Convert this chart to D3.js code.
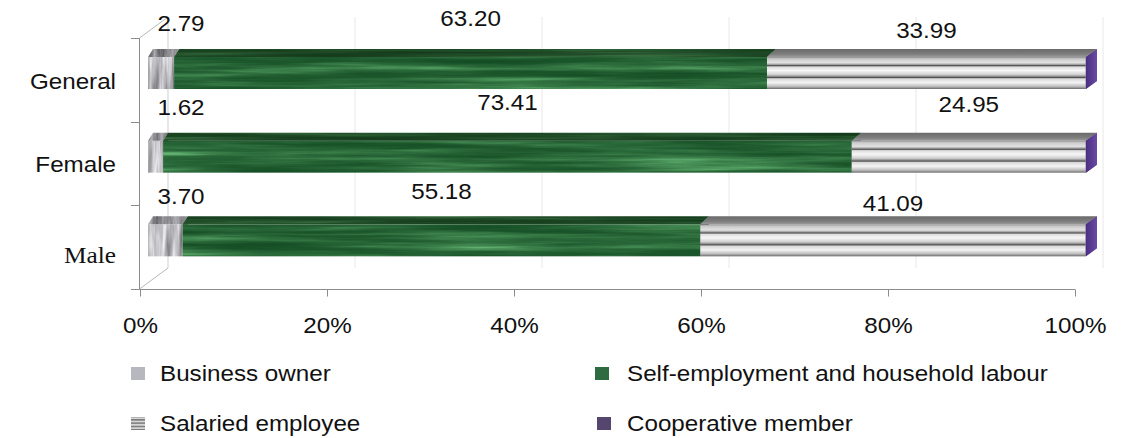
<!DOCTYPE html>
<html>
<head>
<meta charset="utf-8">
<script src="https://cdn.jsdelivr.net/npm/d3@7"></script>
<style>
  html, body { margin: 0; padding: 0; background: #ffffff; }
  svg { display: block; }
  .sans { font-family: "Liberation Sans", Arial, Helvetica, sans-serif; }
  .serif { font-family: "Liberation Serif", "Times New Roman", Times, serif; }
  text { fill: #111; }
</style>
</head>
<body>
<script>
// ---- data ----
const categories = ["General", "Female", "Male"];
const seriesNames = ["Business owner", "Self-employment and household labour", "Salaried employee", "Cooperative member"];
const businessOwner = [2.79, 1.62, 3.70];
const selfEmployment = [63.20, 73.41, 55.18];
const salaried = [33.99, 24.95, 41.09];
const cooperative = [0.02, 0.02, 0.03];
const tickValues = [0, 20, 40, 60, 80, 100];
const tickLabels = ["0%", "20%", "40%", "60%", "80%", "100%"];

// ---- layout ----
const W = 1124, H = 438;
const fontPx = 22, stretch = 1.1;
const wallDx = 28, wallDy = 21;       // offset of the back wall from the front plane
const barDepthY = 8;                  // height of the visible top face
const faceTop = 19, faceBottom = 51;  // front face position inside each band

const keys = ["bo", "se", "sa", "co"];
const table = categories.map((c, i) => ({
  cat: c, bo: businessOwner[i], se: selfEmployment[i], sa: salaried[i], co: cooperative[i]
}));
const stacked = d3.stack().keys(keys)(table);

const axisX = d3.scaleLinear().domain([0, 100]).range([140, 1075]);
const barX = d3.scaleLinear().domain([0, 100]).range([148, 1086]);
const band = d3.scaleBand().domain(categories).range([38, 289]);
// receding depth grows slightly toward the right end of the bars
const depthX = d3.scaleLinear().domain([148, 1086]).range([5, 11]);

const svg = d3.select("body").append("svg").attr("width", W).attr("height", H);
const defs = svg.append("defs");

// streaky textures built from stretched turbulence
function noiseFilter(id, freq, seed, expo, rows) {
  const f = defs.append("filter").attr("id", id)
    .attr("x", 0).attr("y", 0).attr("width", 1).attr("height", 1)
    .attr("color-interpolation-filters", "sRGB");
  f.append("feTurbulence").attr("type", "fractalNoise").attr("baseFrequency", freq)
    .attr("numOctaves", 4).attr("seed", seed).attr("result", "n");
  const ct = f.append("feComponentTransfer").attr("in", "n").attr("result", "g");
  ct.append("feFuncR").attr("type", "gamma").attr("amplitude", 1).attr("exponent", expo).attr("offset", 0);
  f.append("feColorMatrix").attr("in", "g").attr("type", "matrix").attr("values", rows).attr("result", "c");
  f.append("feComposite").attr("in", "c").attr("in2", "SourceGraphic").attr("operator", "in");
}
noiseFilter("texGreen", "0.005 0.14", 3, 2.4,
  "0.42 0 0 0 0.08  0.55 0 0 0 0.3  0.42 0 0 0 0.14  0 0 0 0 1");
noiseFilter("texGreenTop", "0.004 0.2", 5, 2.4,
  "0.25 0 0 0 0.07  0.35 0 0 0 0.22  0.25 0 0 0 0.1  0 0 0 0 1");
noiseFilter("texGray", "0.18 0.015", 9, 1.0,
  "0.75 0 0 0 0.36  0.75 0 0 0 0.36  0.75 0 0 0 0.38  0 0 0 0 1");
noiseFilter("texGrayTop", "0.2 0.03", 11, 1.0,
  "0.6 0 0 0 0.25  0.6 0 0 0 0.25  0.6 0 0 0 0.27  0 0 0 0 1");

// metallic striped face for salaried employees
const stripe = defs.append("linearGradient").attr("id", "stripeFront")
  .attr("x1", 0).attr("y1", 0).attr("x2", 0).attr("y2", 1);
[[0, "#8e8e8e"], [0.06, "#c9c9c9"], [0.18, "#e2e2e2"], [0.24, "#9a9a9a"], [0.27, "#4c4c4c"],
 [0.31, "#dcdcdc"], [0.42, "#f7f7f7"], [0.55, "#cfcfcf"], [0.61, "#8a8a8a"], [0.64, "#4e4e4e"],
 [0.68, "#d8d8d8"], [0.8, "#f4f4f4"], [0.92, "#bdbdbd"], [1, "#6a6a6a"]]
  .forEach(([o, c]) => stripe.append("stop").attr("offset", o).attr("stop-color", c));
const stripeTop = defs.append("linearGradient").attr("id", "stripeTop")
  .attr("x1", 0).attr("y1", 0).attr("x2", 0).attr("y2", 1);
[[0, "#6a6a6a"], [0.6, "#7c7c7c"], [1, "#9a9a9a"]]
  .forEach(([o, c]) => stripeTop.append("stop").attr("offset", o).attr("stop-color", c));
const purpleSide = defs.append("linearGradient").attr("id", "purpleSide")
  .attr("x1", 0).attr("y1", 0).attr("x2", 1).attr("y2", 0);
[[0, "#4b2e82"], [1, "#6a4aa6"]]
  .forEach(([o, c]) => purpleSide.append("stop").attr("offset", o).attr("stop-color", c));
const legendStripe = defs.append("pattern").attr("id", "legendStripe")
  .attr("patternUnits", "userSpaceOnUse").attr("width", 14).attr("height", 3.3);
legendStripe.append("rect").attr("width", 14).attr("height", 3.3).attr("fill", "#d6d6d6");
legendStripe.append("rect").attr("width", 14).attr("height", 1.5).attr("fill", "#7a7a7a");

const styles = {
  bo: { front: { fill: "#b0b0b0", filter: "url(#texGray)" }, top: { fill: "#888", filter: "url(#texGrayTop)" }, side: "#7a7a7a" },
  se: { front: { fill: "#2e6b40", filter: "url(#texGreen)" }, top: { fill: "#1e4f2a", filter: "url(#texGreenTop)" }, side: "#1b4726" },
  sa: { front: { fill: "url(#stripeFront)" }, top: { fill: "url(#stripeTop)" }, side: "#6a6a6a" },
  co: { front: { fill: "#5a3c8c" }, top: { fill: "#4a2e7a" }, side: "url(#purpleSide)" }
};

// ---- back wall and side walls ----
const wall = svg.append("g");
tickValues.forEach(v => {
  wall.append("line")
    .attr("x1", axisX(v) + wallDx).attr("x2", axisX(v) + wallDx)
    .attr("y1", 38 - wallDy).attr("y2", 289 - wallDy)
    .attr("stroke", v === 0 ? "#cfcfcf" : "#e8e8e8").attr("stroke-width", 1);
});
[38, 289].forEach(y => {
  wall.append("line")
    .attr("x1", axisX(0) - 0.5).attr("y1", y)
    .attr("x2", axisX(0) + wallDx).attr("y2", y - wallDy)
    .attr("stroke", "#b8b8b8").attr("stroke-width", 1);
});

// ---- bars ----
const bars = svg.append("g");
stacked.forEach(layer => {
  const key = layer.key;
  const st = styles[key];
  layer.forEach(d => {
    const c = d.data.cat;
    const x0 = barX(d[0]), x1 = barX(d[1]);
    const yt = band(c) + faceTop, yb = band(c) + faceBottom;
    const d0 = depthX(x0), d1 = depthX(x1);
    const g = bars.append("g");
    const front = g.append("rect").attr("x", x0).attr("y", yt)
      .attr("width", Math.max(x1 - x0, 0.01)).attr("height", yb - yt);
    Object.entries(st.front).forEach(([k, v]) => front.attr(k, v));
    const top = g.append("path")
      .attr("d", `M${x0},${yt}L${x0 + d0},${yt - barDepthY}L${x1 + d1},${yt - barDepthY}L${x1},${yt}Z`);
    Object.entries(st.top).forEach(([k, v]) => top.attr(k, v));
    g.append("path")
      .attr("d", `M${x1},${yt}L${x1 + d1},${yt - barDepthY}L${x1 + d1},${yb - barDepthY}L${x1},${yb}Z`)
      .attr("fill", st.side);
  });
});

// ---- front axes ----
const axisColor = "#8c8c8c";
const ax = svg.append("g");
ax.append("line").attr("x1", 139.5).attr("x2", 139.5).attr("y1", 38).attr("y2", 289.5)
  .attr("stroke", axisColor);
const bounds = categories.map(c => band(c)).concat([band.range()[1]]);
bounds.forEach(y => {
  ax.append("line").attr("x1", 131).attr("x2", 139.5).attr("y1", Math.round(y) + 0.5).attr("y2", Math.round(y) + 0.5)
    .attr("stroke", axisColor);
});

const xAxis = svg.append("g").attr("transform", "translate(0,289.5)")
  .call(d3.axisBottom(axisX).tickValues(tickValues).tickSize(7)
    .tickFormat((d, i) => tickLabels[i]));
xAxis.attr("font-family", null).attr("font-size", null);
xAxis.select(".domain").attr("stroke", axisColor).attr("d", `M${axisX(0)},0H${axisX(100)}`);
xAxis.selectAll(".tick line").attr("stroke", axisColor);
xAxis.selectAll(".tick text")
  .attr("class", "sans")
  .attr("y", null).attr("dy", null)
  .attr("transform", `translate(0,43.5) scale(${stretch},1)`)
  .attr("font-size", fontPx)
  .attr("fill", "#111");

// category labels (the last one is set in a serif face)
const catClass = { General: "sans", Female: "sans", Male: "serif" };
const catSize = { General: fontPx, Female: fontPx, Male: 23 };
const catShift = { General: 9.5, Female: 8.5, Male: 16 };
const catG = svg.append("g");
categories.forEach(c => {
  catG.append("text")
    .attr("class", catClass[c])
    .attr("text-anchor", "end")
    .attr("font-size", catSize[c])
    .attr("transform", `translate(116,${band(c) + band.bandwidth() / 2 + catShift[c]}) scale(${stretch},1)`)
    .text(c);
});

// value labels above each bar (the cooperative share is not labelled)
const labelLift = { bo: 26, se: 31, sa: 19 };
const rowShift = { General: 0, Female: 0, Male: 6 };
const labelNudge = { "Female-sa": -10 };
const valueLabels = svg.append("g");
stacked.filter(l => l.key !== "co").forEach(layer => {
  layer.forEach(d => {
    const c = d.data.cat;
    const mid = (barX(d[0]) + barX(d[1])) / 2;
    const v = d[1] - d[0];
    const y = band(c) + faceTop - labelLift[layer.key] + rowShift[c] + (labelNudge[c + "-" + layer.key] || 0);
    valueLabels.append("text")
      .attr("class", "sans")
      .attr("text-anchor", "middle")
      .attr("font-size", fontPx)
      .attr("transform", `translate(${Math.max(mid, 181)},${y}) scale(${stretch},1)`)
      .text(v.toFixed(2));
  });
});

// ---- legend ----
const legendPos = [[131, 367, 160], [595, 367, 627], [131, 417, 160], [597, 417, 627]];
const legendFill = ["#b7b7bf", "#2e6b40", "url(#legendStripe)", "#54466e"];
const legend = svg.append("g");
seriesNames.forEach((name, i) => {
  const [mx, my, tx] = legendPos[i];
  legend.append("rect").attr("x", mx).attr("y", my).attr("width", 14).attr("height", 13)
    .attr("fill", legendFill[i]);
  legend.append("text")
    .attr("class", "sans")
    .attr("font-size", fontPx)
    .attr("transform", `translate(${tx},${my + 14}) scale(${stretch},1)`)
    .text(name);
});
</script>
</body>
</html>
